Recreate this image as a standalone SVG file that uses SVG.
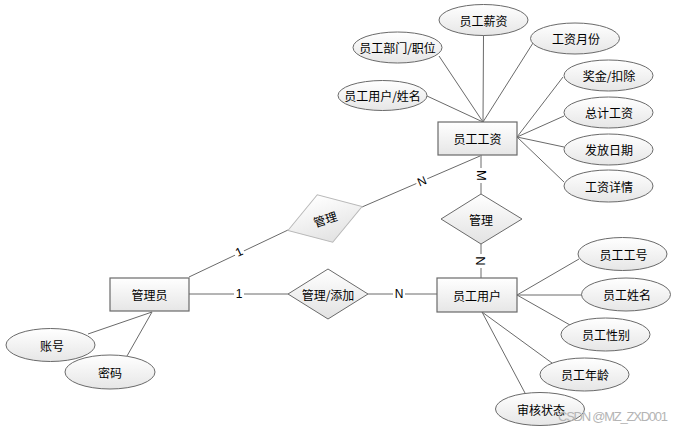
<svg xmlns="http://www.w3.org/2000/svg" width="681" height="429" viewBox="0 0 681 429">
<defs>
<linearGradient id="gr" x1="0" y1="0" x2="0" y2="1">
<stop offset="0" stop-color="#ffffff"/>
<stop offset="1" stop-color="#e6e6e6"/>
</linearGradient>
<linearGradient id="gd" x1="0" y1="0" x2="0" y2="1">
<stop offset="0" stop-color="#ffffff"/>
<stop offset="1" stop-color="#e2e2e2"/>
</linearGradient>
</defs>
<style>
.ent{fill:url(#gr);stroke:#6a6a6a;stroke-width:1.2}
.att{fill:url(#gr);stroke:#6a6a6a;stroke-width:1}
.rel{fill:url(#gd);stroke:#6a6a6a;stroke-width:1}
.rel2{fill:url(#gd);stroke:#b8b8b8;stroke-width:1}
.t{font-family:"Noto Sans CJK SC","Liberation Sans",sans-serif;font-size:12px;fill:#000;text-anchor:middle;dominant-baseline:central}
.lb{font-family:"Liberation Sans","Noto Sans CJK SC",sans-serif;font-size:12px;fill:#000;text-anchor:middle;dominant-baseline:central}
.lr{font-family:"Liberation Sans","Noto Sans CJK SC",sans-serif;font-size:13px;fill:#000;text-anchor:middle;dominant-baseline:central}
.c line{stroke:#6a6a6a;stroke-width:1}
.bg{fill:#fff}
</style>
<rect width="681" height="429" fill="#fff"/>
<g id="connectors" class="c">
<line x1="483" y1="122" x2="483.5" y2="35"/>
<line x1="483" y1="122" x2="439" y2="56"/>
<line x1="483" y1="122" x2="427" y2="96"/>
<line x1="483" y1="122" x2="533" y2="43"/>
<line x1="517" y1="137" x2="563" y2="77"/>
<line x1="517" y1="137" x2="564" y2="116"/>
<line x1="517" y1="137" x2="564" y2="147"/>
<line x1="517" y1="137" x2="564" y2="182"/>
<line x1="481" y1="155" x2="481" y2="194"/>
<line x1="481" y1="244" x2="481" y2="278"/>
<line x1="189" y1="277" x2="288" y2="230"/>
<line x1="362" y1="207" x2="480" y2="156"/>
<line x1="189" y1="294" x2="288" y2="294"/>
<line x1="368" y1="294" x2="437" y2="294"/>
<line x1="517" y1="295" x2="579" y2="259"/>
<line x1="517" y1="295" x2="582" y2="295"/>
<line x1="517" y1="295" x2="570" y2="325"/>
<line x1="482" y1="312" x2="552" y2="363"/>
<line x1="482" y1="312" x2="525" y2="393"/>
<line x1="152" y1="312" x2="88" y2="334"/>
<line x1="152" y1="312" x2="127" y2="356"/>
<rect class="bg" x="475" y="168" width="12" height="15"/>
<text class="lr" transform="translate(481,175.5) rotate(90)">M</text>
<rect class="bg" x="475" y="254" width="12" height="14"/>
<text class="lr" transform="translate(480.5,261) rotate(90)">N</text>
<rect class="bg" x="234" y="246" width="10" height="13" transform="rotate(-25 239 252)"/>
<text class="lb" transform="translate(239,252) rotate(-25)">1</text>
<rect class="bg" x="416" y="175" width="12" height="13" transform="rotate(-23 422 181.5)"/>
<text class="lb" transform="translate(422,181.5) rotate(-23)">N</text>
<rect class="bg" x="234" y="287" width="10" height="14"/>
<text class="lb" x="239" y="294">1</text>
<rect class="bg" x="393" y="287" width="12" height="14"/>
<text class="lb" x="399" y="294">N</text>
</g>
<g id="yggz"><rect class="ent" x="438" y="122" width="79" height="33"/><text class="t" x="477.5" y="138.5">员工工资</text></g>
<g id="yhyh"><rect class="ent" x="437" y="278" width="80" height="34"/><text class="t" x="477" y="295">员工用户</text></g>
<g id="gly"><rect class="ent" x="110" y="278" width="79" height="33"/><text class="t" x="149.5" y="294.5">管理员</text></g>
<g id="rel-gl"><polygon class="rel" points="441,219 481,194 522,219 481,244"/><text class="t" x="481" y="219">管理</text></g>
<g id="rel-gltj"><polygon class="rel" points="288,294 328,269 368,294 328,319"/><text class="t" x="328" y="294">管理/添加</text></g>
<g id="rel-gl2" transform="translate(325,218.5) rotate(-18)"><polygon class="rel2" points="-39,0 0,-25 39,0 0,25"/><text class="t" x="0" y="0">管理</text></g>
<g id="a-xz"><ellipse class="att" cx="483.5" cy="20" rx="44.5" ry="15.5"/><text class="t" x="483.5" y="20">员工薪资</text></g>
<g id="a-bm"><ellipse class="att" cx="397.5" cy="47.5" rx="44.5" ry="15.5"/><text class="t" x="397.5" y="47.5">员工部门/职位</text></g>
<g id="a-yf"><ellipse class="att" cx="575" cy="38.5" rx="44.5" ry="15.5"/><text class="t" x="576" y="38.5">工资月份</text></g>
<g id="a-xm"><ellipse class="att" cx="382.5" cy="95.5" rx="44.5" ry="15"/><text class="t" x="382.5" y="95.5">员工用户/姓名</text></g>
<g id="a-jj"><ellipse class="att" cx="608.5" cy="75.5" rx="44.5" ry="15.5"/><text class="t" x="609" y="75.5">奖金/扣除</text></g>
<g id="a-zj"><ellipse class="att" cx="608.5" cy="112.5" rx="44.5" ry="15.5"/><text class="t" x="609" y="112.5">总计工资</text></g>
<g id="a-ff"><ellipse class="att" cx="608.5" cy="149.5" rx="44.5" ry="15.5"/><text class="t" x="609" y="149.5">发放日期</text></g>
<g id="a-xq"><ellipse class="att" cx="608.5" cy="186" rx="44.5" ry="16"/><text class="t" x="609" y="186">工资详情</text></g>
<g id="a-gh"><ellipse class="att" cx="622.5" cy="254" rx="44.5" ry="16.5"/><text class="t" x="623.5" y="254">员工工号</text></g>
<g id="a-ygxm"><ellipse class="att" cx="626" cy="294.5" rx="44.5" ry="16.5"/><text class="t" x="627" y="294.5">员工姓名</text></g>
<g id="a-xb"><ellipse class="att" cx="605.5" cy="334.5" rx="44.5" ry="16.5"/><text class="t" x="606" y="334.5">员工性别</text></g>
<g id="a-nl"><ellipse class="att" cx="584.5" cy="374.5" rx="44.5" ry="16.5"/><text class="t" x="585" y="374.5">员工年龄</text></g>
<g id="a-zt"><ellipse class="att" cx="540" cy="409" rx="44.5" ry="16.5"/><text class="t" x="541" y="409">审核状态</text></g>
<g id="a-zh"><ellipse class="att" cx="50.5" cy="345" rx="44.5" ry="16.5"/><text class="t" x="52" y="345">账号</text></g>
<g id="a-mm"><ellipse class="att" cx="110" cy="372" rx="45" ry="17"/><text class="t" x="110" y="372">密码</text></g>
<text x="558" y="416" font-family="Liberation Sans, sans-serif" font-size="13" fill="#b4b4b4" dominant-baseline="central" textLength="110">CSDN @MZ_ZXD001</text>
</svg>
